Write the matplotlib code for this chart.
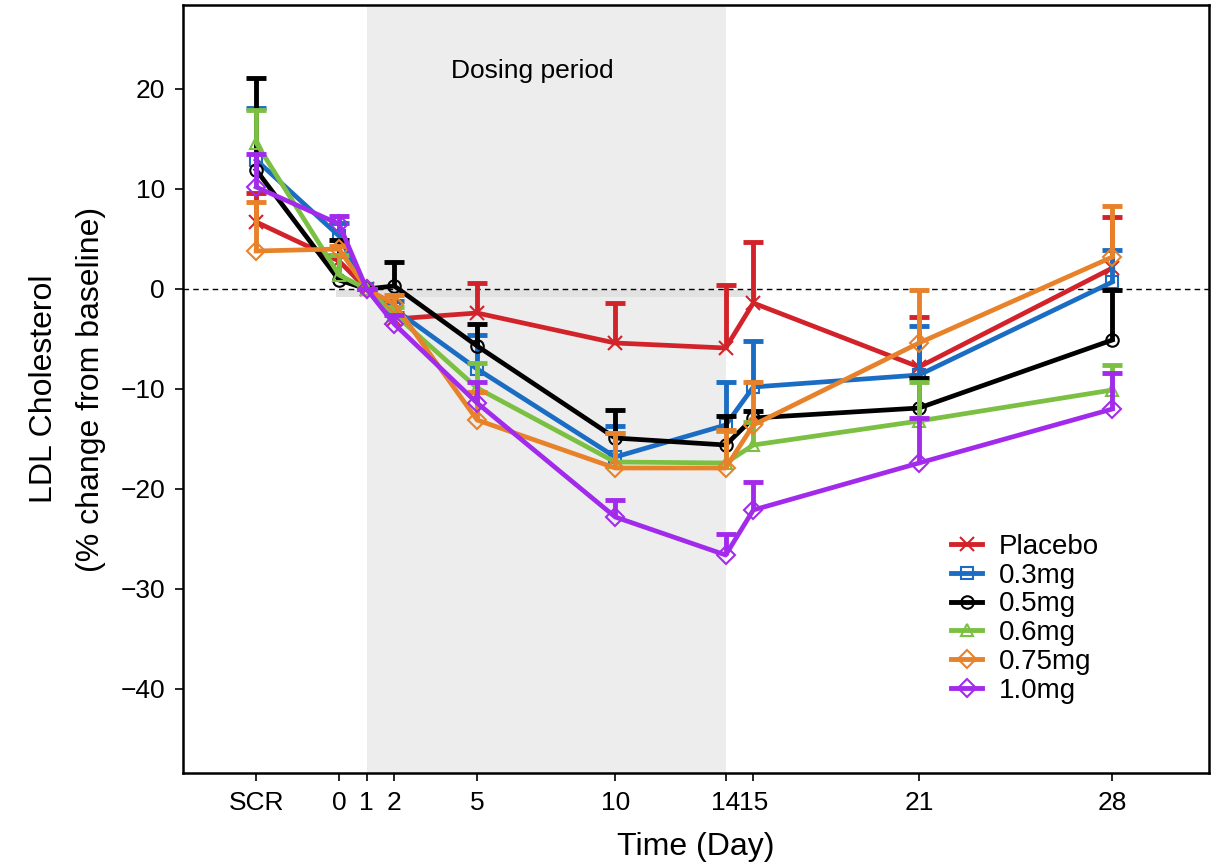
import numpy as np
import matplotlib.pyplot as plt
from matplotlib.lines import Line2D

plt.rcParams['font.family'] = ['Liberation Sans', 'DejaVu Sans']

# Time points (SCR is plotted at day -3)
days = [-3, 0, 1, 2, 5, 10, 14, 15, 21, 28]
tick_labels = ['SCR', '0', '1', '2', '5', '10', '14', '15', '21', '28']

groups = ['Placebo', '0.3mg', '0.5mg', '0.6mg', '0.75mg', '1.0mg']

# mean % change from baseline
placebo = [6.7, 2.8, 0, -3.0, -2.4, -5.4, -5.9, -1.4, -7.8, 2.1]
mg03 = [12.9, 5.3, 0, -2.0, -8.0, -16.8, -13.6, -9.8, -8.6, 0.7]
mg05 = [11.9, 0.9, 0, 0.3, -5.7, -14.9, -15.6, -12.9, -11.9, -5.1]
mg06 = [14.6, 1.4, 0, -2.5, -9.9, -17.3, -17.4, -15.6, -13.2, -10.1]
mg075 = [3.8, 4.0, 0, -1.5, -13.1, -17.9, -17.9, -13.6, -5.4, 3.2]
mg10 = [10.2, 6.5, 0, -3.5, -11.4, -22.8, -26.6, -22.1, -17.4, -12.0]

# upper error bar ends
placebo_hi = [9.6, 3.4, 0, -2.4, 0.6, -1.4, 0.4, 4.7, -2.8, 7.2]
mg03_hi = [18.1, 6.6, 0, -1.2, -4.6, -13.7, -9.3, -5.2, -3.7, 3.9]
mg05_hi = [21.1, 4.9, 0, 2.7, -3.5, -12.1, -12.7, -12.2, -8.9, -0.1]
mg06_hi = [17.9, 3.4, 0, -1.8, -7.4, -14.4, -14.2, -13.3, -9.3, -7.6]
mg075_hi = [8.7, 4.3, 0, -0.6, -10.3, -14.4, -14.1, -9.3, -0.1, 8.3]
mg10_hi = [13.5, 7.3, 0, -2.6, -9.3, -21.1, -24.5, -19.3, -12.9, -8.4]

means = [placebo, mg03, mg05, mg06, mg075, mg10]
highs = [placebo_hi, mg03_hi, mg05_hi, mg06_hi, mg075_hi, mg10_hi]
colors = ['#D2232A', '#1A6DC3', '#000000', '#7BC043', '#E8822A', '#A22BEB']
markers = ['x', 's', 'o', '^', 'D', 'D']

fig = plt.figure(figsize=(12.21, 8.64), dpi=100)
ax = fig.add_axes([183/1221, 1-773/864, (1209-183)/1221, (773-5)/864])

# dosing period shading
ax.axvspan(1, 14, color='#EDEDED', zorder=0, lw=0)
ax.plot([0, 15], [-0.35, -0.35], color='#E2E2E2', lw=5, zorder=0.5)
ax.axhline(0, color='black', ls=(0, (4, 3)), lw=1, zorder=1)
ax.text(7.0, 21.8, 'Dosing period', ha='center', va='center', fontsize=19)

handles = []
for g, m, hi, c, mk in zip(groups, means, highs, colors, markers):
    m = np.array(m)
    hi = np.array(hi)
    ms = 10 if mk == 'x' else 9
    # upper error bars only
    ax.vlines(days, m, hi, color=c, lw=3.5, zorder=3)
    ax.plot(days, hi, ls='none', marker='_', ms=14, mew=3.5, color=c, zorder=3)
    ax.plot(days, m, color=c, lw=3.4, marker=mk, ms=ms, mfc='none', mec=c,
            mew=1.5, zorder=3)
    handles.append(Line2D([], [], color=c, lw=3.5, marker=mk, ms=ms, mfc='none',
                          mec=c, mew=1.5, label=g))

ax.set_xlim(-5.65, 31.5)
ax.set_ylim(-48.4, 28.4)
ax.set_xticks(days)
ax.set_xticklabels(tick_labels)
ax.set_yticks([20, 10, 0, -10, -20, -30, -40])
ax.set_yticklabels(['20', '10', '0', '\u221210', '\u221220', '\u221230', '\u221240'])
ax.tick_params(labelsize=19, length=6, width=1.2, direction='out', pad=7)
for s in ax.spines.values():
    s.set_linewidth(1.8)

ax.set_xlabel('Time (Day)', fontsize=23, labelpad=12)
ax.set_ylabel('LDL Cholesterol\n(% change from baseline)', fontsize=23, labelpad=10,
              linespacing=1.75)

ax.legend(handles=handles, loc='lower left', bbox_to_anchor=(0.73, 0.065),
          frameon=False, fontsize=20, handlelength=1.1, labelspacing=0.1,
          handletextpad=0.6, borderpad=0.2)

fig.savefig('out.png', dpi=100)
